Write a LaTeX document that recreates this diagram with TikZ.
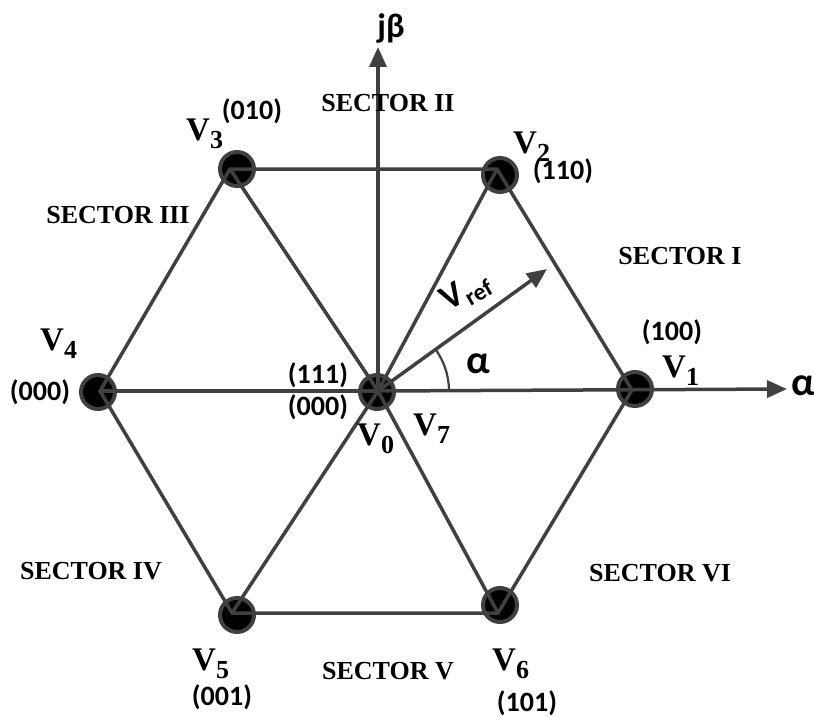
\documentclass[tikz,border=0pt]{standalone}
\usepackage{fontspec}
\setmainfont{Liberation Serif}
\newfontfamily\calfont{Carlito}
\usetikzlibrary{arrows.meta}
\definecolor{linegray}{RGB}{64,64,64}
\newcommand{\vlab}[1]{V\raisebox{-8pt}{\fontsize{26}{26}\selectfont #1}}

\begin{document}
\begin{tikzpicture}[x=1pt, y=-1pt,
    wire/.style = {draw=linegray, line width=3.5pt},
    axis/.style = {wire, -{Triangle[length=20pt,width=17pt]}},
    dot/.style = {circle, fill=black, draw=linegray, line width=4pt, minimum size=34pt, inner sep=0pt},
    vname/.style = {anchor=base west, inner sep=0pt, font=\bfseries\fontsize{33}{33}\selectfont},
    code/.style = {inner sep=0pt, font=\calfont\bfseries\fontsize{28}{28}\selectfont},
    sector/.style = {inner sep=0pt, font=\bfseries\fontsize{26}{26}\selectfont},
    greek/.style = {inner sep=0pt, font=\calfont\bfseries\fontsize{40}{40}\selectfont}]
    \useasboundingbox (0,0) rectangle (814,717);

    % Ecken
    \coordinate (o) at (378,391);
    \coordinate (p1) at (632,390);
    \coordinate (p2) at (497,169);
    \coordinate (p3) at (230,169);
    \coordinate (p4) at (100,391);
    \coordinate (p5) at (232,613);
    \coordinate (p6) at (498,613);

    % Punkte
    \node[dot] (d0) at (377,392) {};
    \node[dot] (d1) at (635,389) {};
    \node[dot] (d2) at (500,175) {};
    \node[dot] (d3) at (237,169) {};
    \node[dot] (d4) at (98,392) {};
    \node[dot] (d5) at (237,615) {};
    \node[dot] (d6) at (500,605) {};

    % Sechseck
    \draw[wire] (p1) -- (p2) -- (p3) -- (p4) -- (p5) -- (p6) -- cycle;
    \draw[wire] (o) -- (p2);
    \draw[wire] (o) -- (p3);
    \draw[wire] (o) -- (p4);
    \draw[wire] (o) -- (p5);
    \draw[wire] (o) -- (p6);

    % Achsen
    \coordinate (atip) at (787,389);
    \coordinate (btip) at (378,47);
    \coordinate (rtip) at (547,269);
    \draw[axis] (o) -- (atip);
    \draw[axis] (o) -- (btip);
    \draw[axis] (o) -- (rtip);
    \draw[draw=linegray, line width=2.2pt] (o) ++(71,0) arc[start angle=0, end angle=36, radius=71pt];

    % Beschriftungen
    \node[greek, font=\calfont\bfseries\fontsize{34}{34}\selectfont] (jb) at (391,28) {jβ};
    \node[greek] (al) at (803,386) {α};
    \node[greek] (ang) at (478,364) {α};
    \node[greek, rotate=30, font=\calfont\bfseries\fontsize{36}{36}\selectfont] (vref) at (466,292) {V\raisebox{-7pt}{\fontsize{24}{24}\selectfont ref}};

    \node[vname] (n0) at (357,445) {\vlab{0}};
    \node[vname] (n1) at (662,377) {\vlab{1}};
    \node[vname] (n2) at (513,153) {\vlab{2}};
    \node[vname] (n3) at (186,140) {\vlab{3}};
    \node[vname] (n4) at (40,350) {\vlab{4}};
    \node[vname] (n5) at (192,670) {\vlab{5}};
    \node[vname] (n6) at (492,670) {\vlab{6}};
    \node[vname] (n7) at (413,435) {\vlab{7}};

    \node[code] (c111) at (318,375) {(111)};
    \node[code] (c000) at (318,407) {(000)};
    \node[code] (c100) at (672,332) {(100)};
    \node[code] (c110) at (563,171) {(110)};
    \node[code] (c010) at (252,111) {(010)};
    \node[code] (c000b) at (40,392) {(000)};
    \node[code] (c001) at (222,697) {(001)};
    \node[code] (c101) at (527,703) {(101)};

    \node[sector] (s1) at (680,256) {SECTOR I};
    \node[sector] (s2) at (388,103) {SECTOR II};
    \node[sector] (s3) at (118,215) {SECTOR III};
    \node[sector] (s4) at (91,571) {SECTOR IV};
    \node[sector] (s5) at (388,671) {SECTOR V};
    \node[sector] (s6) at (660,573) {SECTOR VI};
\end{tikzpicture}
\end{document}
